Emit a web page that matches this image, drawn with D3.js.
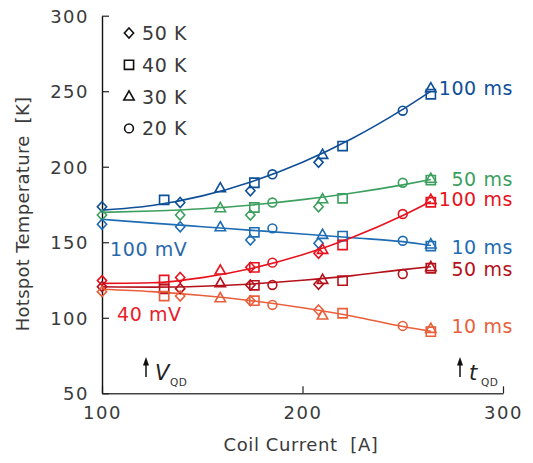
<!DOCTYPE html>
<html>
<head>
<meta charset="utf-8">
<script src="https://cdn.jsdelivr.net/npm/d3@7"></script>
<style>
  html, body { margin: 0; padding: 0; background: #fff; }
  svg { display: block; font-family: "DejaVu Sans", sans-serif; }
  text { white-space: pre; }
</style>
</head>
<body>
<svg id="chart" width="533" height="463"></svg>
<script>
// Hotspot temperature vs. coil current for each quench detection setting.
// Series order: 100 mV / 100 ms, 100 mV / 50 ms, 100 mV / 10 ms,
//               40 mV / 100 ms,  40 mV / 50 ms,  40 mV / 10 ms
const seriesLabels = ["100 ms", "50 ms", "10 ms", "100 ms", "50 ms", "10 ms"];
const seriesColors = ["#0e4f98", "#3d9f5e", "#1d6cb4", "#e8121d", "#b5111b", "#e85f3b"];

// Fitted trend lines, sampled along the current axis [A] -> temperature [K]
const fitCurrents = [100, 125, 150, 175, 200, 225, 250, 264];
const fitTemps = [
  [171.3, 174.3, 180.7, 190.3, 203.0, 218.9, 238.0, 250.0],
  [169.8, 170.7, 172.2, 174.7, 178.2, 182.6, 188.0, 191.5],
  [165.2, 162.7, 160.3, 157.9, 155.5, 153.0, 150.4, 147.8],
  [122.8, 123.2, 126.6, 132.8, 141.7, 153.3, 167.7, 177.0],
  [120.5, 120.3, 120.9, 122.4, 124.8, 127.9, 131.9, 133.8],
  [118.9, 117.3, 114.7, 111.2, 106.6, 101.0,  94.2,  91.0]
];

// Measured hotspot temperatures by operating temperature (null = no run)
const currents50K = [100, 139, 174, 208];
const temps50K = [
  [173.5, 176.3, 184.1, 202.9],
  [168.0, 168.0, 168.0, 173.5],
  [161.9, 160.3, 151.5, 149.3],
  [124.6, 126.7, 133.4, 142.7],
  [120.6, 119.3, 121.7, 122.2],
  [117.3, 114.4, 111.3, 105.2]
];
const currents40K = [131, 176, 220, 264];
const temps40K = [
  [178.0, 189.4, 213.7, 248.0],
  [null,  173.0, 179.1, 191.2],
  [null,  156.6, 154.1, 147.5],
  [125.0, 133.4, 148.2, 176.5],
  [119.1, 121.5, 124.6, 132.8],
  [114.4, 111.3, 103.0,  90.8]
];
const currents30K = [159, 210, 264];
const temps30K = [
  [185.7, 207.8, 251.9],
  [172.5, 178.4, 192.0],
  [159.9, 154.8, 148.5],
  [131.2, 144.9, 178.0],
  [122.8, 125.0, 133.5],
  [112.9, 101.4,  92.6]
];
const currents20K = [185, 250];
const temps20K = [
  [195.0, 237.1],
  [176.3, 189.4],
  [159.2, 151.0],
  [136.5, 168.7],
  [121.7, 129.0],
  [108.5,  94.6]
];

const legendLabels = ["50 K", "40 K", "30 K", "20 K"];
const xTicks = [100, 200, 300];
const yTicks = [50, 100, 150, 200, 250, 300];

// Marker outlines, centred on the origin
const markerPaths = {
  diamond:  "M0,-5L4.6,0L0,5L-4.6,0Z",
  square:   "M-4.6,-4.6H4.6V4.6H-4.6Z",
  triangle: "M0,-5.8L5.2,3.4H-5.2Z",
  circle:   "M4.4,0A4.4,4.4 0 1,1 -4.4,0A4.4,4.4 0 1,1 4.4,0Z"
};
const markerSets = [
  { shape: "diamond",  xs: currents50K, ys: temps50K },
  { shape: "square",   xs: currents40K, ys: temps40K },
  { shape: "triangle", xs: currents30K, ys: temps30K },
  { shape: "circle",   xs: currents20K, ys: temps20K }
];

const svg = d3.select("#chart");
const x = d3.scaleLinear().domain([100, 300]).range([102, 503]);
const y = d3.scaleLinear().domain([50, 300]).range([393.3, 15.7]);

const textColor = "#3a3a3a";

// Axes with inward ticks
const gx = svg.append("g").attr("transform", `translate(0,${y(50)})`)
  .call(d3.axisBottom(x).tickValues(xTicks).tickSize(-7).tickSizeOuter(0).tickPadding(13));
const gy = svg.append("g").attr("transform", `translate(${x(100)},0)`)
  .call(d3.axisLeft(y).tickValues(yTicks).tickSize(-7).tickSizeOuter(0).tickPadding(13));
gx.select(".domain").attr("stroke", "#444").attr("stroke-width", 1.4);
gy.select(".domain").attr("stroke", "#111").attr("stroke-width", 1.4);
[gx, gy].forEach(g => {
  g.selectAll(".tick line").attr("stroke", "#222").attr("stroke-width", 1.2);
  g.selectAll(".tick text").attr("fill", textColor).attr("font-size", 18)
    .attr("font-family", "'DejaVu Sans', sans-serif").attr("letter-spacing", 1.5);
});
gy.selectAll(".tick text").attr("dy", "0.36em");

svg.append("text").attr("x", 301).attr("y", 451)
  .attr("text-anchor", "middle").attr("fill", textColor).attr("font-size", 18)
  .attr("letter-spacing", 0.6).text("Coil Current  [A]");
svg.append("text").attr("transform", "translate(29,214) rotate(-90)")
  .attr("text-anchor", "middle").attr("fill", textColor).attr("font-size", 18)
  .attr("letter-spacing", 0.3).text("Hotspot Temperature  [K]");

// Trend lines
const line = d3.line().x(d => x(d[0])).y(d => y(d[1])).curve(d3.curveMonotoneX);
fitTemps.forEach((temps, i) => {
  svg.append("path")
    .datum(fitCurrents.map((c, k) => [c, temps[k]]))
    .attr("fill", "none").attr("stroke", seriesColors[i]).attr("stroke-width", 1.6)
    .attr("d", line);
});

// Measurement markers
markerSets.forEach(set => {
  set.ys.forEach((temps, i) => {
    const pts = set.xs.map((c, k) => [c, temps[k]]).filter(p => p[1] != null);
    svg.append("g").selectAll("path").data(pts).join("path")
      .attr("transform", d => `translate(${x(d[0])},${y(d[1])})`)
      .attr("d", markerPaths[set.shape])
      .attr("fill", "none").attr("stroke", seriesColors[i]).attr("stroke-width", 1.6);
  });
});

// Detection-time labels beside the end of each line (baseline offsets in px)
const labelNudge = [3.8, 6, 8.5, 4.4, 9.3, 1.5];
fitTemps.forEach((temps, i) => {
  svg.append("text")
    .attr("x", 513).attr("y", y(temps[temps.length - 1]) + labelNudge[i])
    .attr("text-anchor", "end")
    .attr("fill", seriesColors[i]).attr("font-size", 19).attr("letter-spacing", 0.6)
    .text(seriesLabels[i]);
});

// Detection-voltage labels
svg.append("text").attr("x", 110).attr("y", 256).attr("fill", "#2a68aa")
  .attr("font-size", 19).attr("letter-spacing", 0.6).text("100 mV");
svg.append("text").attr("x", 117).attr("y", 321).attr("fill", "#e8202a")
  .attr("font-size", 19).attr("letter-spacing", 0.6).text("40 mV");

// Legend
const legend = svg.append("g");
legendLabels.forEach((lab, i) => {
  const ly = 33 + i * 31.8;
  legend.append("path").attr("transform", `translate(129,${ly})`)
    .attr("d", markerPaths[markerSets[i].shape])
    .attr("fill", "none").attr("stroke", "#111").attr("stroke-width", 1.6);
  legend.append("text").attr("x", 142).attr("y", ly + 7)
    .attr("fill", textColor).attr("font-size", 19).attr("letter-spacing", 0.6).text(lab);
});

// Arrows marking the quench detection voltage and detection time
function arrowNote(ax, main, mainX, subX) {
  svg.append("line").attr("x1", ax).attr("x2", ax).attr("y1", 377).attr("y2", 363)
    .attr("stroke", "#111").attr("stroke-width", 1.5);
  svg.append("path").attr("d", `M${ax},357L${ax + 3},365.5H${ax - 3}Z`).attr("fill", "#111");
  svg.append("text").attr("x", mainX).attr("y", 379.5).attr("fill", "#222")
    .attr("font-size", 21).attr("font-style", "italic").text(main);
  svg.append("text").attr("x", subX).attr("y", 386).attr("fill", "#333")
    .attr("font-size", 10.5).attr("letter-spacing", 0.4).text("QD");
}
arrowNote(146, "V", 155, 170);
arrowNote(460, "t", 469, 481);
</script>
</body>
</html>
